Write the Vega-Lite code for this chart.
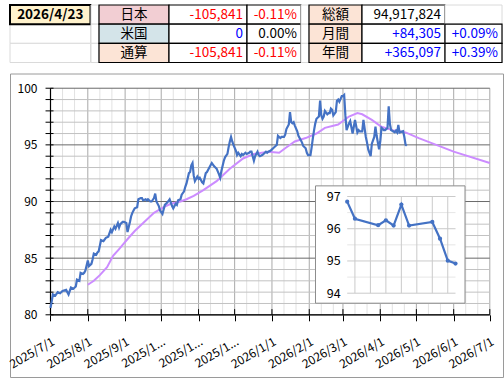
{
  "$schema": "https://vega.github.io/schema/vega-lite/v6.json",
  "background": "white",
  "padding": {"left": 6, "top": 4, "right": 4, "bottom": 4},
  "spacing": 8.5,
  "config": {
    "font": "Noto Sans CJK JP",
    "view": {"stroke": null},
    "locale": {"number": {"decimal": ".", "thousands": ",", "grouping": [3], "currency": ["", ""], "minus": "-"}}
  },
  "datasets": {
    "rows": [{"r": 1}, {"r": 2}, {"r": 3}],
    "left": [
      {"r": 1, "name": "日本", "amount": -105841, "rate": -0.0011},
      {"r": 2, "name": "米国", "amount": 0, "rate": 0},
      {"r": 3, "name": "通算", "amount": -105841, "rate": -0.0011}
    ],
    "right": [
      {"r": 1, "name": "総額", "amount": 94917824, "rate": null},
      {"r": 2, "name": "月間", "amount": 84305, "rate": 0.0009},
      {"r": 3, "name": "年間", "amount": 365097, "rate": 0.0039}
    ],
    "blue": [
      {"date": "2025-07-01", "value": 80.6}, {"date": "2025-07-02", "value": 81.2}, {"date": "2025-07-03", "value": 81.8},
      {"date": "2025-07-05", "value": 81.7}, {"date": "2025-07-07", "value": 82.0}, {"date": "2025-07-09", "value": 81.9},
      {"date": "2025-07-11", "value": 82.1}, {"date": "2025-07-14", "value": 82.2}, {"date": "2025-07-16", "value": 81.8},
      {"date": "2025-07-18", "value": 82.4}, {"date": "2025-07-20", "value": 82.3}, {"date": "2025-07-22", "value": 82.5},
      {"date": "2025-07-23", "value": 83.1}, {"date": "2025-07-25", "value": 83.0}, {"date": "2025-07-26", "value": 83.7},
      {"date": "2025-07-28", "value": 83.6}, {"date": "2025-07-29", "value": 83.7}, {"date": "2025-07-30", "value": 83.9},
      {"date": "2025-08-01", "value": 84.8}, {"date": "2025-08-02", "value": 84.3}, {"date": "2025-08-04", "value": 84.5},
      {"date": "2025-08-05", "value": 84.9}, {"date": "2025-08-06", "value": 85.4}, {"date": "2025-08-08", "value": 85.3},
      {"date": "2025-08-09", "value": 85.5}, {"date": "2025-08-10", "value": 85.6}, {"date": "2025-08-12", "value": 86.6},
      {"date": "2025-08-14", "value": 86.5}, {"date": "2025-08-16", "value": 86.8}, {"date": "2025-08-18", "value": 86.9},
      {"date": "2025-08-20", "value": 87.5}, {"date": "2025-08-21", "value": 87.3}, {"date": "2025-08-23", "value": 87.8},
      {"date": "2025-08-24", "value": 87.6}, {"date": "2025-08-26", "value": 88.1}, {"date": "2025-08-27", "value": 87.7},
      {"date": "2025-08-28", "value": 88.0}, {"date": "2025-08-30", "value": 88.2}, {"date": "2025-08-31", "value": 88.2},
      {"date": "2025-09-02", "value": 88.1}, {"date": "2025-09-03", "value": 87.3}, {"date": "2025-09-05", "value": 88.2},
      {"date": "2025-09-06", "value": 88.7}, {"date": "2025-09-07", "value": 89.0}, {"date": "2025-09-08", "value": 89.2},
      {"date": "2025-09-09", "value": 89.4}, {"date": "2025-09-11", "value": 89.5}, {"date": "2025-09-12", "value": 90.2},
      {"date": "2025-09-14", "value": 90.3}, {"date": "2025-09-15", "value": 90.3}, {"date": "2025-09-16", "value": 90.1},
      {"date": "2025-09-18", "value": 90.2}, {"date": "2025-09-19", "value": 90.1}, {"date": "2025-09-20", "value": 90.2},
      {"date": "2025-09-22", "value": 90.0}, {"date": "2025-09-23", "value": 90.0}, {"date": "2025-09-25", "value": 90.3},
      {"date": "2025-09-26", "value": 90.7}, {"date": "2025-09-27", "value": 90.0}, {"date": "2025-09-29", "value": 89.6},
      {"date": "2025-09-30", "value": 89.2}, {"date": "2025-10-02", "value": 88.9}, {"date": "2025-10-03", "value": 89.3},
      {"date": "2025-10-04", "value": 89.7}, {"date": "2025-10-06", "value": 89.9}, {"date": "2025-10-08", "value": 90.2},
      {"date": "2025-10-10", "value": 89.6}, {"date": "2025-10-11", "value": 89.4}, {"date": "2025-10-13", "value": 89.8},
      {"date": "2025-10-14", "value": 89.7}, {"date": "2025-10-15", "value": 90.1}, {"date": "2025-10-17", "value": 90.2},
      {"date": "2025-10-18", "value": 90.6}, {"date": "2025-10-20", "value": 90.9}, {"date": "2025-10-21", "value": 91.3},
      {"date": "2025-10-22", "value": 91.6}, {"date": "2025-10-24", "value": 92.5}, {"date": "2025-10-25", "value": 92.6},
      {"date": "2025-10-26", "value": 93.2}, {"date": "2025-10-27", "value": 93.4}, {"date": "2025-10-28", "value": 92.3},
      {"date": "2025-10-29", "value": 91.8}, {"date": "2025-10-31", "value": 92.2}, {"date": "2025-11-01", "value": 92.0},
      {"date": "2025-11-02", "value": 92.1}, {"date": "2025-11-04", "value": 91.7}, {"date": "2025-11-05", "value": 91.6},
      {"date": "2025-11-07", "value": 92.5}, {"date": "2025-11-08", "value": 92.6}, {"date": "2025-11-09", "value": 92.8},
      {"date": "2025-11-11", "value": 93.2}, {"date": "2025-11-12", "value": 93.4}, {"date": "2025-11-14", "value": 93.1},
      {"date": "2025-11-15", "value": 93.0}, {"date": "2025-11-16", "value": 92.9}, {"date": "2025-11-18", "value": 92.4},
      {"date": "2025-11-19", "value": 92.1}, {"date": "2025-11-20", "value": 92.7}, {"date": "2025-11-22", "value": 93.6},
      {"date": "2025-11-23", "value": 93.9}, {"date": "2025-11-25", "value": 94.2}, {"date": "2025-11-26", "value": 94.8},
      {"date": "2025-11-27", "value": 95.3}, {"date": "2025-11-28", "value": 95.7}, {"date": "2025-11-29", "value": 95.3},
      {"date": "2025-11-30", "value": 95.0}, {"date": "2025-12-02", "value": 94.5}, {"date": "2025-12-03", "value": 94.1},
      {"date": "2025-12-04", "value": 94.3}, {"date": "2025-12-06", "value": 94.0}, {"date": "2025-12-07", "value": 94.2},
      {"date": "2025-12-08", "value": 94.1}, {"date": "2025-12-10", "value": 94.3}, {"date": "2025-12-11", "value": 94.2},
      {"date": "2025-12-13", "value": 94.3}, {"date": "2025-12-14", "value": 94.4}, {"date": "2025-12-15", "value": 94.4},
      {"date": "2025-12-17", "value": 93.6}, {"date": "2025-12-18", "value": 94.0}, {"date": "2025-12-20", "value": 94.4},
      {"date": "2025-12-21", "value": 94.1}, {"date": "2025-12-22", "value": 94.0}, {"date": "2025-12-24", "value": 94.1},
      {"date": "2025-12-25", "value": 94.2}, {"date": "2025-12-27", "value": 94.4}, {"date": "2025-12-28", "value": 94.3},
      {"date": "2025-12-29", "value": 94.4}, {"date": "2025-12-31", "value": 94.5}, {"date": "2026-01-01", "value": 94.6},
      {"date": "2026-01-02", "value": 94.7}, {"date": "2026-01-04", "value": 94.9}, {"date": "2026-01-05", "value": 95.0},
      {"date": "2026-01-06", "value": 95.8}, {"date": "2026-01-07", "value": 95.7}, {"date": "2026-01-08", "value": 95.6},
      {"date": "2026-01-09", "value": 95.7}, {"date": "2026-01-11", "value": 95.7}, {"date": "2026-01-12", "value": 95.9},
      {"date": "2026-01-13", "value": 96.4}, {"date": "2026-01-15", "value": 96.8}, {"date": "2026-01-16", "value": 97.9},
      {"date": "2026-01-17", "value": 97.0}, {"date": "2026-01-18", "value": 96.9}, {"date": "2026-01-19", "value": 97.0},
      {"date": "2026-01-20", "value": 96.7}, {"date": "2026-01-22", "value": 96.2}, {"date": "2026-01-23", "value": 95.8},
      {"date": "2026-01-25", "value": 95.4}, {"date": "2026-01-26", "value": 95.2}, {"date": "2026-01-27", "value": 94.9},
      {"date": "2026-01-29", "value": 94.7}, {"date": "2026-01-30", "value": 94.3}, {"date": "2026-01-31", "value": 94.1},
      {"date": "2026-02-01", "value": 94.1}, {"date": "2026-02-02", "value": 94.1}, {"date": "2026-02-03", "value": 94.8},
      {"date": "2026-02-04", "value": 95.6}, {"date": "2026-02-05", "value": 96.3}, {"date": "2026-02-06", "value": 96.9},
      {"date": "2026-02-07", "value": 97.3}, {"date": "2026-02-09", "value": 97.5}, {"date": "2026-02-10", "value": 98.9},
      {"date": "2026-02-11", "value": 97.6}, {"date": "2026-02-12", "value": 97.3}, {"date": "2026-02-13", "value": 97.5},
      {"date": "2026-02-14", "value": 98.0}, {"date": "2026-02-16", "value": 97.7}, {"date": "2026-02-17", "value": 97.8},
      {"date": "2026-02-18", "value": 97.8}, {"date": "2026-02-19", "value": 98.2}, {"date": "2026-02-20", "value": 98.1},
      {"date": "2026-02-21", "value": 97.6}, {"date": "2026-02-23", "value": 97.9}, {"date": "2026-02-24", "value": 98.9},
      {"date": "2026-02-25", "value": 99.0}, {"date": "2026-02-26", "value": 98.8}, {"date": "2026-02-28", "value": 99.3},
      {"date": "2026-03-01", "value": 99.3}, {"date": "2026-03-02", "value": 99.4}, {"date": "2026-03-03", "value": 97.6},
      {"date": "2026-03-04", "value": 96.3}, {"date": "2026-03-06", "value": 96.9}, {"date": "2026-03-07", "value": 97.1},
      {"date": "2026-03-09", "value": 96.0}, {"date": "2026-03-10", "value": 96.6}, {"date": "2026-03-11", "value": 97.2},
      {"date": "2026-03-13", "value": 96.1}, {"date": "2026-03-14", "value": 96.3}, {"date": "2026-03-15", "value": 96.2},
      {"date": "2026-03-17", "value": 96.2}, {"date": "2026-03-18", "value": 97.2}, {"date": "2026-03-20", "value": 95.7},
      {"date": "2026-03-21", "value": 95.2}, {"date": "2026-03-22", "value": 94.6}, {"date": "2026-03-24", "value": 94.0},
      {"date": "2026-03-25", "value": 95.1}, {"date": "2026-03-27", "value": 95.7}, {"date": "2026-03-28", "value": 96.6},
      {"date": "2026-03-29", "value": 95.8}, {"date": "2026-03-31", "value": 94.6}, {"date": "2026-04-01", "value": 95.3},
      {"date": "2026-04-02", "value": 96.5}, {"date": "2026-04-04", "value": 96.3}, {"date": "2026-04-05", "value": 96.3},
      {"date": "2026-04-07", "value": 96.5}, {"date": "2026-04-08", "value": 98.4}, {"date": "2026-04-09", "value": 96.84},
      {"date": "2026-04-10", "value": 96.31}, {"date": "2026-04-13", "value": 96.11}, {"date": "2026-04-14", "value": 96.26},
      {"date": "2026-04-15", "value": 96.10}, {"date": "2026-04-16", "value": 96.75}, {"date": "2026-04-17", "value": 96.10},
      {"date": "2026-04-20", "value": 96.21}, {"date": "2026-04-21", "value": 95.69}, {"date": "2026-04-22", "value": 95.01},
      {"date": "2026-04-23", "value": 94.92}
    ],
    "purple": [
      {"date": "2025-08-01", "value": 82.65}, {"date": "2025-08-06", "value": 83.0}, {"date": "2025-08-11", "value": 83.5},
      {"date": "2025-08-17", "value": 84.2}, {"date": "2025-08-22", "value": 85.2}, {"date": "2025-08-27", "value": 85.8},
      {"date": "2025-08-31", "value": 86.3}, {"date": "2025-09-04", "value": 86.8}, {"date": "2025-09-09", "value": 87.4},
      {"date": "2025-09-16", "value": 88.1}, {"date": "2025-09-25", "value": 89.0}, {"date": "2025-10-03", "value": 89.5},
      {"date": "2025-10-09", "value": 89.8}, {"date": "2025-10-17", "value": 90.0}, {"date": "2025-10-22", "value": 90.2},
      {"date": "2025-10-28", "value": 90.5}, {"date": "2025-11-05", "value": 91.0}, {"date": "2025-11-16", "value": 91.8},
      {"date": "2025-11-27", "value": 92.9}, {"date": "2025-12-08", "value": 93.8}, {"date": "2025-12-17", "value": 94.2},
      {"date": "2025-12-29", "value": 94.4}, {"date": "2026-01-07", "value": 94.3}, {"date": "2026-01-12", "value": 94.7},
      {"date": "2026-01-20", "value": 95.3}, {"date": "2026-01-29", "value": 95.6}, {"date": "2026-02-07", "value": 96.0},
      {"date": "2026-02-14", "value": 96.5}, {"date": "2026-02-25", "value": 96.8}, {"date": "2026-03-06", "value": 97.5},
      {"date": "2026-03-13", "value": 97.8}, {"date": "2026-03-17", "value": 97.7}, {"date": "2026-03-25", "value": 97.2},
      {"date": "2026-04-02", "value": 96.6}, {"date": "2026-04-11", "value": 96.3}, {"date": "2026-04-22", "value": 96.1},
      {"date": "2026-05-03", "value": 95.6}, {"date": "2026-06-01", "value": 94.4}, {"date": "2026-07-01", "value": 93.4}
    ],
    "ylines": [
      {"v": 80}, {"v": 81}, {"v": 82}, {"v": 83}, {"v": 84}, {"v": 85}, {"v": 86}, {"v": 87}, {"v": 88}, {"v": 89}, {"v": 90},
      {"v": 91}, {"v": 92}, {"v": 93}, {"v": 94}, {"v": 95}, {"v": 96}, {"v": 97}, {"v": 98}, {"v": 99}, {"v": 100}
    ],
    "xlines": [
      {"d": "2025-07-11"}, {"d": "2025-07-21"}, {"d": "2025-08-01"}, {"d": "2025-08-11"}, {"d": "2025-08-21"},
      {"d": "2025-09-01"}, {"d": "2025-09-11"}, {"d": "2025-09-21"}, {"d": "2025-10-01"}, {"d": "2025-10-11"},
      {"d": "2025-10-21"}, {"d": "2025-11-01"}, {"d": "2025-11-11"}, {"d": "2025-11-21"}, {"d": "2025-12-01"},
      {"d": "2025-12-11"}, {"d": "2025-12-21"}, {"d": "2026-01-01"}, {"d": "2026-01-11"}, {"d": "2026-01-21"},
      {"d": "2026-02-01"}, {"d": "2026-02-11"}, {"d": "2026-02-21"}, {"d": "2026-03-01"}, {"d": "2026-03-11"},
      {"d": "2026-03-21"}, {"d": "2026-04-01"}, {"d": "2026-04-11"}, {"d": "2026-04-21"}, {"d": "2026-05-01"},
      {"d": "2026-05-11"}, {"d": "2026-05-21"}, {"d": "2026-06-01"}, {"d": "2026-06-11"}, {"d": "2026-06-21"},
      {"d": "2026-07-01"}
    ],
    "ilines": [
      {"v": 94}, {"v": 94.5}, {"v": 95}, {"v": 95.5}, {"v": 96}, {"v": 96.5}, {"v": 97}
    ],
    "ixlines": [
      {"d": "2026-04-10"}, {"d": "2026-04-12"}, {"d": "2026-04-14"}, {"d": "2026-04-16"},
      {"d": "2026-04-18"}, {"d": "2026-04-20"}, {"d": "2026-04-22"}
    ]
  },
  "vconcat": [
    {
      "bounds": "flush",
      "spacing": 0,
      "hconcat": [
        {
          "width": 80.5, "height": 57.5,
          "data": {"values": [{"r": 1, "label": "2026/4/23"}, {"r": 2, "label": ""}, {"r": 3, "label": ""}]},
          "layer": [
            {"mark": {"type": "rect", "fill": "white", "stroke": "#dadada", "strokeWidth": 1},
             "encoding": {"y": {"field": "r", "type": "ordinal", "axis": null, "scale": {"domain": [1, 2, 3], "paddingInner": 0, "paddingOuter": 0}}}},
            {"transform": [{"filter": "datum.r === 1"}],
             "mark": {"type": "rect", "fill": "#fff2cc", "stroke": "#000000", "strokeWidth": 2},
             "encoding": {"y": {"field": "r", "type": "ordinal", "axis": null, "scale": {"domain": [1, 2, 3], "paddingInner": 0, "paddingOuter": 0}}}},
            {"transform": [{"filter": "datum.r === 1"}],
             "mark": {"type": "text", "fontSize": 13.5, "fontWeight": "bold", "align": "center", "baseline": "middle", "dx": -40.25, "color": "#000000"},
             "encoding": {"x": {"value": "width"},
                          "y": {"field": "r", "type": "ordinal", "axis": null, "scale": {"domain": [1, 2, 3], "paddingInner": 0, "paddingOuter": 0}},
                          "text": {"field": "label", "type": "nominal"}}}
          ]
        },
        {
          "width": 8, "height": 57.5,
          "data": {"name": "rows"},
          "mark": {"type": "rect", "fill": "white", "stroke": "#dadada", "strokeWidth": 1},
          "encoding": {"y": {"field": "r", "type": "ordinal", "axis": null, "scale": {"domain": [1, 2, 3], "paddingInner": 0, "paddingOuter": 0}}}
        },
        {
          "width": 70, "height": 57.5,
          "data": {"name": "left"},
          "layer": [
            {"mark": {"type": "rect", "stroke": "#000000", "strokeWidth": 1.2},
             "encoding": {"y": {"field": "r", "type": "ordinal", "axis": null, "scale": {"domain": [1, 2, 3], "paddingInner": 0, "paddingOuter": 0}},
                          "fill": {"field": "name", "type": "nominal", "legend": null, "scale": {"domain": ["日本", "米国", "通算"], "range": ["#f2ced3", "#d4e4e9", "#fce4d6"]}}}},
            {"mark": {"type": "text", "fontSize": 13.5, "align": "center", "baseline": "middle", "dx": -35, "color": "#000000"},
             "encoding": {"x": {"value": "width"},
                          "y": {"field": "r", "type": "ordinal", "axis": null, "scale": {"domain": [1, 2, 3], "paddingInner": 0, "paddingOuter": 0}},
                          "text": {"field": "name", "type": "nominal"}}}
          ]
        },
        {
          "width": 78, "height": 57.5,
          "data": {"name": "left"},
          "layer": [
            {"mark": {"type": "rect", "fill": "white", "stroke": "#000000", "strokeWidth": 1.2},
             "encoding": {"y": {"field": "r", "type": "ordinal", "axis": null, "scale": {"domain": [1, 2, 3], "paddingInner": 0, "paddingOuter": 0}}}},
            {"mark": {"type": "text", "fontSize": 13.5, "align": "right", "baseline": "middle", "dx": -4},
             "encoding": {"x": {"value": "width"},
                          "y": {"field": "r", "type": "ordinal", "axis": null, "scale": {"domain": [1, 2, 3], "paddingInner": 0, "paddingOuter": 0}},
                          "text": {"field": "amount", "type": "quantitative", "format": ",d"},
                          "color": {"condition": {"test": "datum.amount < 0", "value": "#ff0000"}, "value": "#0000ff"}}}
          ]
        },
        {
          "width": 54, "height": 57.5,
          "data": {"name": "left"},
          "layer": [
            {"mark": {"type": "rect", "fill": "white", "stroke": "#000000", "strokeWidth": 1.2},
             "encoding": {"y": {"field": "r", "type": "ordinal", "axis": null, "scale": {"domain": [1, 2, 3], "paddingInner": 0, "paddingOuter": 0}}}},
            {"mark": {"type": "text", "fontSize": 13.5, "align": "right", "baseline": "middle", "dx": -4},
             "encoding": {"x": {"value": "width"},
                          "y": {"field": "r", "type": "ordinal", "axis": null, "scale": {"domain": [1, 2, 3], "paddingInner": 0, "paddingOuter": 0}},
                          "text": {"field": "rate", "type": "quantitative", "format": ".2%"},
                          "color": {"condition": [{"test": "datum.rate < 0", "value": "#ff0000"}, {"test": "datum.rate > 0", "value": "#0000ff"}], "value": "#000000"}}}
          ]
        },
        {
          "width": 8, "height": 57.5,
          "data": {"name": "rows"},
          "mark": {"type": "rect", "fill": "white", "stroke": "#dadada", "strokeWidth": 1},
          "encoding": {"y": {"field": "r", "type": "ordinal", "axis": null, "scale": {"domain": [1, 2, 3], "paddingInner": 0, "paddingOuter": 0}}}
        },
        {
          "width": 53, "height": 57.5,
          "data": {"name": "right"},
          "layer": [
            {"mark": {"type": "rect", "fill": "#fce4d6", "stroke": "#000000", "strokeWidth": 1.2},
             "encoding": {"y": {"field": "r", "type": "ordinal", "axis": null, "scale": {"domain": [1, 2, 3], "paddingInner": 0, "paddingOuter": 0}}}},
            {"mark": {"type": "text", "fontSize": 13.5, "align": "center", "baseline": "middle", "dx": -26.5, "color": "#000000"},
             "encoding": {"x": {"value": "width"},
                          "y": {"field": "r", "type": "ordinal", "axis": null, "scale": {"domain": [1, 2, 3], "paddingInner": 0, "paddingOuter": 0}},
                          "text": {"field": "name", "type": "nominal"}}}
          ]
        },
        {
          "width": 83, "height": 57.5,
          "data": {"name": "right"},
          "layer": [
            {"mark": {"type": "rect", "fill": "white", "stroke": "#000000", "strokeWidth": 1.2},
             "encoding": {"y": {"field": "r", "type": "ordinal", "axis": null, "scale": {"domain": [1, 2, 3], "paddingInner": 0, "paddingOuter": 0}}}},
            {"transform": [{"filter": "datum.r === 1"}],
             "mark": {"type": "text", "fontSize": 13.5, "align": "right", "baseline": "middle", "dx": -4, "color": "#000000"},
             "encoding": {"x": {"value": "width"},
                          "y": {"field": "r", "type": "ordinal", "axis": null, "scale": {"domain": [1, 2, 3], "paddingInner": 0, "paddingOuter": 0}},
                          "text": {"field": "amount", "type": "quantitative", "format": ",d"}}},
            {"transform": [{"filter": "datum.r > 1"}],
             "mark": {"type": "text", "fontSize": 13.5, "align": "right", "baseline": "middle", "dx": -4, "color": "#0000ff"},
             "encoding": {"x": {"value": "width"},
                          "y": {"field": "r", "type": "ordinal", "axis": null, "scale": {"domain": [1, 2, 3], "paddingInner": 0, "paddingOuter": 0}},
                          "text": {"field": "amount", "type": "quantitative", "format": "+,d"}}}
          ]
        },
        {
          "width": 57, "height": 57.5,
          "data": {"name": "right"},
          "layer": [
            {"mark": {"type": "rect", "fill": "white", "stroke": "#dadada", "strokeWidth": 1},
             "encoding": {"y": {"field": "r", "type": "ordinal", "axis": null, "scale": {"domain": [1, 2, 3], "paddingInner": 0, "paddingOuter": 0}}}},
            {"transform": [{"filter": "datum.r > 1"}],
             "mark": {"type": "rect", "fill": "white", "stroke": "#000000", "strokeWidth": 1.2},
             "encoding": {"y": {"field": "r", "type": "ordinal", "axis": null, "scale": {"domain": [1, 2, 3], "paddingInner": 0, "paddingOuter": 0}}}},
            {"transform": [{"filter": "datum.r > 1"}],
             "mark": {"type": "text", "fontSize": 13.5, "align": "right", "baseline": "middle", "dx": -4, "color": "#0000ff"},
             "encoding": {"x": {"value": "width"},
                          "y": {"field": "r", "type": "ordinal", "axis": null, "scale": {"domain": [1, 2, 3], "paddingInner": 0, "paddingOuter": 0}},
                          "text": {"field": "rate", "type": "quantitative", "format": "+.2%"}}}
          ]
        }
      ]
    },
    {
      "width": 493,
      "height": 303.5,
      "view": {"fill": "white", "stroke": "#9a9a9a", "strokeWidth": 1},
      "resolve": {"scale": {"x": "independent", "y": "independent"}, "axis": {"x": "independent", "y": "independent"}},
      "layer": [
        {
          "layer": [
            {
              "data": {"name": "xlines"},
              "mark": {"type": "rule", "strokeWidth": 1},
              "encoding": {
                "x": {"field": "d", "type": "temporal", "scale": {"type": "utc", "domain": [{"year": 2025, "month": 5, "date": 28, "hours": 8, "minutes": 24, "utc": true}, {"year": 2026, "month": 7, "date": 11, "hours": 23, "minutes": 15, "utc": true}]}},
                "y": {"datum": 80, "type": "quantitative", "scale": {"domain": [74.51, 101.3], "zero": false, "nice": false}},
                "y2": {"datum": 100},
                "color": {"condition": {"test": "utcdate(datum.d) === 1", "value": "#a9a9a9"}, "value": "#e2e2e2"}
              }
            },
            {
              "data": {"name": "ylines"},
              "mark": {"type": "rule", "strokeWidth": 1},
              "encoding": {
                "x": {"datum": {"year": 2025, "month": 7, "date": 1, "utc": true}, "type": "temporal", "scale": {"type": "utc", "domain": [{"year": 2025, "month": 5, "date": 28, "hours": 8, "minutes": 24, "utc": true}, {"year": 2026, "month": 7, "date": 11, "hours": 23, "minutes": 15, "utc": true}]}},
                "x2": {"datum": {"year": 2026, "month": 7, "date": 1, "utc": true}},
                "y": {"field": "v", "type": "quantitative", "scale": {"domain": [74.51, 101.3], "zero": false, "nice": false}},
                "color": {"condition": {"test": "datum.v % 5 === 0", "value": "#6a6a6a"}, "value": "#c2c2c2"}
              }
            },
            {
              "data": {"name": "xlines"},
              "transform": [{"filter": "utcdate(datum.d) === 1"}],
              "mark": {"type": "rule", "strokeWidth": 1, "color": "#000000"},
              "encoding": {
                "x": {"field": "d", "type": "temporal", "scale": {"type": "utc", "domain": [{"year": 2025, "month": 5, "date": 28, "hours": 8, "minutes": 24, "utc": true}, {"year": 2026, "month": 7, "date": 11, "hours": 23, "minutes": 15, "utc": true}]}},
                "y": {"datum": 80, "type": "quantitative", "scale": {"domain": [74.51, 101.3], "zero": false, "nice": false}},
                "y2": {"datum": 80.5}
              }
            },
            {
              "data": {"name": "ylines"},
              "mark": {"type": "rule", "strokeWidth": 1, "color": "#000000"},
              "encoding": {
                "x": {"datum": {"year": 2025, "month": 6, "date": 26, "hours": 21, "utc": true}, "type": "temporal", "scale": {"type": "utc", "domain": [{"year": 2025, "month": 5, "date": 28, "hours": 8, "minutes": 24, "utc": true}, {"year": 2026, "month": 7, "date": 11, "hours": 23, "minutes": 15, "utc": true}]}},
                "x2": {"datum": {"year": 2025, "month": 7, "date": 3, "hours": 12, "utc": true}},
                "y": {"field": "v", "type": "quantitative", "scale": {"domain": [74.51, 101.3], "zero": false, "nice": false}}
              }
            },
            {
              "data": {"values": [{}]},
              "mark": {"type": "rule", "strokeWidth": 1.2, "color": "#000000"},
              "encoding": {
                "x": {"datum": {"year": 2025, "month": 7, "date": 1, "utc": true}, "type": "temporal", "scale": {"type": "utc", "domain": [{"year": 2025, "month": 5, "date": 28, "hours": 8, "minutes": 24, "utc": true}, {"year": 2026, "month": 7, "date": 11, "hours": 23, "minutes": 15, "utc": true}]}},
                "y": {"datum": 80, "type": "quantitative", "scale": {"domain": [74.51, 101.3], "zero": false, "nice": false}},
                "y2": {"datum": 100}
              }
            },
            {
              "data": {"values": [{}]},
              "mark": {"type": "rule", "strokeWidth": 1.2, "color": "#000000"},
              "encoding": {
                "x": {"datum": {"year": 2025, "month": 7, "date": 1, "utc": true}, "type": "temporal", "scale": {"type": "utc", "domain": [{"year": 2025, "month": 5, "date": 28, "hours": 8, "minutes": 24, "utc": true}, {"year": 2026, "month": 7, "date": 11, "hours": 23, "minutes": 15, "utc": true}]}},
                "x2": {"datum": {"year": 2026, "month": 7, "date": 1, "utc": true}},
                "y": {"datum": 80, "type": "quantitative", "scale": {"domain": [74.51, 101.3], "zero": false, "nice": false}}
              }
            },
            {
              "data": {"name": "purple"},
              "mark": {"type": "line", "color": "#cc8cff", "strokeWidth": 2},
              "encoding": {
                "x": {"field": "date", "type": "temporal", "scale": {"type": "utc", "domain": [{"year": 2025, "month": 5, "date": 28, "hours": 8, "minutes": 24, "utc": true}, {"year": 2026, "month": 7, "date": 11, "hours": 23, "minutes": 15, "utc": true}]}},
                "y": {"field": "value", "type": "quantitative", "scale": {"domain": [74.51, 101.3], "zero": false, "nice": false}}
              }
            },
            {
              "data": {"name": "blue"},
              "mark": {"type": "line", "color": "#4472c4", "strokeWidth": 2.2},
              "encoding": {
                "x": {"field": "date", "type": "temporal",
                      "scale": {"type": "utc", "domain": [{"year": 2025, "month": 5, "date": 28, "hours": 8, "minutes": 24, "utc": true}, {"year": 2026, "month": 7, "date": 11, "hours": 23, "minutes": 15, "utc": true}]},
                      "axis": {"orient": "bottom", "offset": -62.2, "zindex": 1,
                               "values": [{"year": 2025, "month": 7, "date": 1, "utc": true}, {"year": 2025, "month": 8, "date": 1, "utc": true}, {"year": 2025, "month": 9, "date": 1, "utc": true}, {"year": 2025, "month": 10, "date": 1, "utc": true}, {"year": 2025, "month": 11, "date": 1, "utc": true}, {"year": 2025, "month": 12, "date": 1, "utc": true}, {"year": 2026, "month": 1, "date": 1, "utc": true}, {"year": 2026, "month": 2, "date": 1, "utc": true}, {"year": 2026, "month": 3, "date": 1, "utc": true}, {"year": 2026, "month": 4, "date": 1, "utc": true}, {"year": 2026, "month": 5, "date": 1, "utc": true}, {"year": 2026, "month": 6, "date": 1, "utc": true}, {"year": 2026, "month": 7, "date": 1, "utc": true}],
                               "format": "%Y/%-m/%-d",
                               "labelExpr": "length(datum.label) > 8 ? substring(datum.label, 0, 6) + '...' : datum.label",
                               "labelAngle": -30, "labelAlign": "right", "labelBaseline": "top", "labelPadding": 15,
                               "tickSize": 6, "tickColor": "#000000", "domain": false, "grid": false, "title": null,
                               "labelFontSize": 12, "labelColor": "#000000", "labelOverlap": false, "labelFlush": false, "labelBound": false}},
                "y": {"field": "value", "type": "quantitative",
                      "scale": {"domain": [74.51, 101.3], "zero": false, "nice": false},
                      "axis": {"orient": "left", "offset": -40.5, "zindex": 1,
                               "values": [80, 85, 90, 95, 100],
                               "ticks": false, "domain": false, "grid": false, "title": null,
                               "labelFontSize": 12, "labelColor": "#000000", "labelPadding": 13.5, "labelOverlap": false, "labelBound": false, "labelFlush": false}}
              }
            }
          ]
        },
        {
          "layer": [
            {
              "data": {"values": [{}]},
              "mark": {"type": "rect", "fill": "white", "stroke": "#8c8c8c", "strokeWidth": 1},
              "encoding": {
                "x": {"datum": {"year": 2026, "month": 4, "date": 4, "hours": 21, "minutes": 36, "utc": true}, "type": "temporal", "axis": null, "scale": {"type": "utc", "domain": [{"year": 2026, "month": 2, "date": 24, "hours": 9, "minutes": 50, "utc": true}, {"year": 2026, "month": 4, "date": 29, "hours": 3, "minutes": 22, "utc": true}]}},
                "x2": {"datum": {"year": 2026, "month": 4, "date": 24, "hours": 5, "minutes": 30, "utc": true}},
                "y": {"datum": 97.33, "type": "quantitative", "scale": {"domain": [91.4, 100.816], "zero": false, "nice": false}},
                "y2": {"datum": 93.69}
              }
            },
            {
              "data": {"name": "ilines"},
              "mark": {"type": "rule", "strokeWidth": 1},
              "encoding": {
                "x": {"datum": {"year": 2026, "month": 4, "date": 9, "utc": true}, "type": "temporal", "axis": null, "scale": {"type": "utc", "domain": [{"year": 2026, "month": 2, "date": 24, "hours": 9, "minutes": 50, "utc": true}, {"year": 2026, "month": 4, "date": 29, "hours": 3, "minutes": 22, "utc": true}]}},
                "x2": {"datum": {"year": 2026, "month": 4, "date": 23, "utc": true}},
                "y": {"field": "v", "type": "quantitative", "scale": {"domain": [91.4, 100.816], "zero": false, "nice": false}},
                "color": {"condition": {"test": "datum.v % 1 === 0", "value": "#cacaca"}, "value": "#e6e6e6"}
              }
            },
            {
              "data": {"name": "ixlines"},
              "mark": {"type": "rule", "strokeWidth": 1, "color": "#cacaca"},
              "encoding": {
                "x": {"field": "d", "type": "temporal", "axis": null, "scale": {"type": "utc", "domain": [{"year": 2026, "month": 2, "date": 24, "hours": 9, "minutes": 50, "utc": true}, {"year": 2026, "month": 4, "date": 29, "hours": 3, "minutes": 22, "utc": true}]}},
                "y": {"datum": 94, "type": "quantitative", "scale": {"domain": [91.4, 100.816], "zero": false, "nice": false}},
                "y2": {"datum": 97}
              }
            },
            {
              "data": {"name": "blue"},
              "transform": [{"filter": {"field": "date", "gte": {"year": 2026, "month": 4, "date": 9, "utc": true}}}],
              "mark": {"type": "line", "color": "#4472c4", "strokeWidth": 2.2, "point": {"filled": true, "size": 18, "color": "#4472c4"}},
              "encoding": {
                "x": {"field": "date", "type": "temporal", "axis": null, "scale": {"type": "utc", "domain": [{"year": 2026, "month": 2, "date": 24, "hours": 9, "minutes": 50, "utc": true}, {"year": 2026, "month": 4, "date": 29, "hours": 3, "minutes": 22, "utc": true}]}},
                "y": {"field": "value", "type": "quantitative",
                      "scale": {"domain": [91.4, 100.816], "zero": false, "nice": false},
                      "axis": {"orient": "left", "offset": -337.2, "zindex": 2, "values": [94, 95, 96, 97], "ticks": false, "domain": false, "grid": false, "title": null,
                               "labelFontSize": 12.5, "labelColor": "#000000", "labelPadding": 7, "labelOverlap": false, "labelBound": false, "labelFlush": false}}
              }
            }
          ]
        }
      ]
    }
  ]
}
